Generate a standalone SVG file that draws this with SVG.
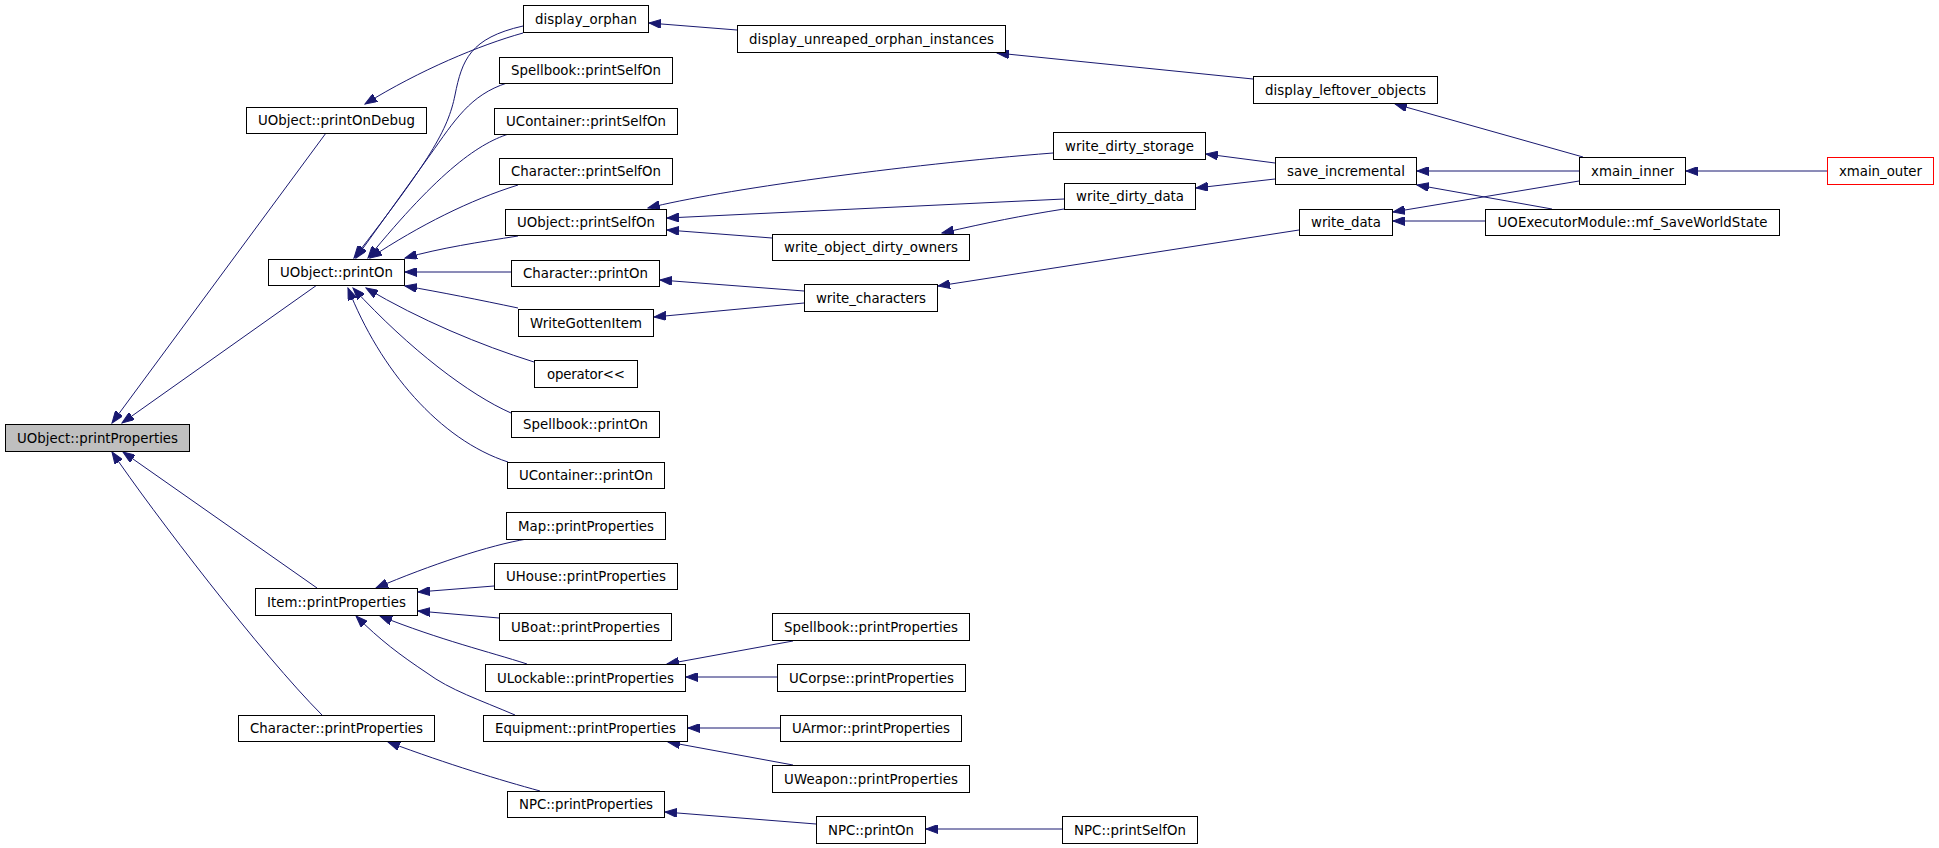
<svg xmlns="http://www.w3.org/2000/svg" width="1939" height="848" viewBox="0 0 1939 848">
<style>
.n rect{fill:#fff;stroke:#000;stroke-width:1}
.n text{font-family:"DejaVu Sans","Liberation Sans",sans-serif;font-size:13.33px;fill:#000;text-anchor:middle}
#n_PP rect{fill:#bfbfbf}
#n_XO rect{stroke:#ff0000}
#edges path{fill:none;stroke:#191970;stroke-width:1;marker-end:url(#ah)}
</style>
<defs>
<marker id="ah" markerUnits="userSpaceOnUse" markerWidth="13" markerHeight="9" refX="12" refY="4.5" orient="auto">
<path d="M0,0 L12,4.5 L0,9 z" fill="#191970" stroke="#191970" stroke-width="1"/>
</marker>
</defs>
<rect width="1939" height="848" fill="#fff"/>
<g id="edges">
<path d="M326,133 L112,423"/>
<path d="M317,285 L122,423"/>
<path d="M317,588 L123,452"/>
<path d="M322,715 C262,655 152,511 112,452"/>
<path d="M523,33 C480,45 420,70 365,104"/>
<path d="M523,26 C470,38 462,60 455,95 C448,130 430,160 354,258"/>
<path d="M507,83 C470,95 455,120 430,155 L356,258"/>
<path d="M512,133 C480,142 440,170 368,258"/>
<path d="M518,185 C470,200 420,225 370,258"/>
<path d="M518,236 C480,242 440,248 405,258"/>
<path d="M511,272 L405,272"/>
<path d="M518,308 C480,300 440,292 405,286"/>
<path d="M534,362 C480,345 420,320 366,288"/>
<path d="M511,413 C470,395 410,350 353,288"/>
<path d="M508,462 C440,440 380,370 348,288"/>
<path d="M737,30 L649,23"/>
<path d="M1253,79 L997,53"/>
<path d="M1583,157 L1395,104"/>
<path d="M1053,153 C900,165 720,190 648,208"/>
<path d="M1064,199 L667,218"/>
<path d="M772,238 L667,230"/>
<path d="M1064,209 C1020,216 990,222 942,233"/>
<path d="M1275,163 L1206,154"/>
<path d="M1275,179 L1196,188"/>
<path d="M1579,171 L1417,171"/>
<path d="M1552,209 L1417,185"/>
<path d="M1579,181 L1393,212"/>
<path d="M1485,221 L1393,221"/>
<path d="M1299,230 L938,286"/>
<path d="M804,291 L660,280"/>
<path d="M804,303 L654,317"/>
<path d="M1827,171 L1686,171"/>
<path d="M527,539 C490,545 430,565 376,588"/>
<path d="M494,586 L418,592"/>
<path d="M499,618 L418,611"/>
<path d="M527,664 C490,652 440,640 380,616"/>
<path d="M515,715 C480,700 450,690 427,673 C400,655 380,640 356,616"/>
<path d="M793,641 L667,664"/>
<path d="M777,677 L686,677"/>
<path d="M780,728 L688,728"/>
<path d="M793,765 L668,742"/>
<path d="M540,791 C500,780 450,765 388,742"/>
<path d="M816,824 L665,812"/>
<path d="M1062,829 L926,829"/>
</g>
<g id="n_PP" class="n"><rect x="5.5" y="424.5" width="184" height="27"/><text x="97.5" y="442.5" textLength="161" lengthAdjust="spacing">UObject::printProperties</text></g>
<g id="n_POD" class="n"><rect x="246.5" y="107.5" width="180" height="26"/><text x="336.5" y="125" textLength="157" lengthAdjust="spacing">UObject::printOnDebug</text></g>
<g id="n_PO" class="n"><rect x="268.5" y="259.5" width="136" height="26"/><text x="336.5" y="277" textLength="113" lengthAdjust="spacing">UObject::printOn</text></g>
<g id="n_Item" class="n"><rect x="255.5" y="588.5" width="162" height="27"/><text x="336.5" y="606.5" textLength="139" lengthAdjust="spacing">Item::printProperties</text></g>
<g id="n_CharPP" class="n"><rect x="238.5" y="715.5" width="196" height="26"/><text x="336.5" y="733" textLength="173" lengthAdjust="spacing">Character::printProperties</text></g>
<g id="n_DO" class="n"><rect x="523.5" y="5.5" width="125" height="27"/><text x="586" y="23.5" textLength="102" lengthAdjust="spacing">display_orphan</text></g>
<g id="n_DUOI" class="n"><rect x="737.5" y="25.5" width="268" height="27"/><text x="871.5" y="43.5" textLength="245" lengthAdjust="spacing">display_unreaped_orphan_instances</text></g>
<g id="n_SbPSO" class="n"><rect x="499.5" y="57.5" width="173" height="26"/><text x="586" y="75" textLength="150" lengthAdjust="spacing">Spellbook::printSelfOn</text></g>
<g id="n_UCPSO" class="n"><rect x="494.5" y="108.5" width="183" height="26"/><text x="586" y="126" textLength="160" lengthAdjust="spacing">UContainer::printSelfOn</text></g>
<g id="n_ChPSO" class="n"><rect x="499.5" y="158.5" width="173" height="26"/><text x="586" y="176" textLength="150" lengthAdjust="spacing">Character::printSelfOn</text></g>
<g id="n_UOPSO" class="n"><rect x="505.5" y="209.5" width="161" height="26"/><text x="586" y="227" textLength="138" lengthAdjust="spacing">UObject::printSelfOn</text></g>
<g id="n_ChPO" class="n"><rect x="511.5" y="260.5" width="148" height="26"/><text x="585.5" y="278" textLength="125" lengthAdjust="spacing">Character::printOn</text></g>
<g id="n_WGI" class="n"><rect x="518.5" y="309.5" width="135" height="27"/><text x="586" y="327.5" textLength="112" lengthAdjust="spacing">WriteGottenItem</text></g>
<g id="n_OP" class="n"><rect x="534.5" y="360.5" width="103" height="27"/><text x="586" y="378.5" textLength="78" lengthAdjust="spacing">operator&lt;&lt;</text></g>
<g id="n_SbPO" class="n"><rect x="511.5" y="411.5" width="148" height="26"/><text x="585.5" y="429" textLength="125" lengthAdjust="spacing">Spellbook::printOn</text></g>
<g id="n_UCPO" class="n"><rect x="507.5" y="462.5" width="157" height="26"/><text x="586" y="480" textLength="134" lengthAdjust="spacing">UContainer::printOn</text></g>
<g id="n_Map" class="n"><rect x="506.5" y="512.5" width="159" height="27"/><text x="586" y="530.5" textLength="136" lengthAdjust="spacing">Map::printProperties</text></g>
<g id="n_UHouse" class="n"><rect x="494.5" y="563.5" width="183" height="26"/><text x="586" y="581" textLength="160" lengthAdjust="spacing">UHouse::printProperties</text></g>
<g id="n_UBoat" class="n"><rect x="499.5" y="613.5" width="172" height="27"/><text x="585.5" y="631.5" textLength="149" lengthAdjust="spacing">UBoat::printProperties</text></g>
<g id="n_ULock" class="n"><rect x="485.5" y="664.5" width="200" height="27"/><text x="585.5" y="682.5" textLength="177" lengthAdjust="spacing">ULockable::printProperties</text></g>
<g id="n_Equip" class="n"><rect x="483.5" y="715.5" width="204" height="26"/><text x="585.5" y="733" textLength="181" lengthAdjust="spacing">Equipment::printProperties</text></g>
<g id="n_NPCPP" class="n"><rect x="507.5" y="791.5" width="157" height="26"/><text x="586" y="809" textLength="134" lengthAdjust="spacing">NPC::printProperties</text></g>
<g id="n_WODO" class="n"><rect x="772.5" y="234.5" width="197" height="26"/><text x="871" y="252" textLength="174" lengthAdjust="spacing">write_object_dirty_owners</text></g>
<g id="n_WC" class="n"><rect x="804.5" y="284.5" width="133" height="27"/><text x="871" y="302.5" textLength="110" lengthAdjust="spacing">write_characters</text></g>
<g id="n_DLO" class="n"><rect x="1253.5" y="76.5" width="184" height="27"/><text x="1345.5" y="94.5" textLength="161" lengthAdjust="spacing">display_leftover_objects</text></g>
<g id="n_WDS" class="n"><rect x="1053.5" y="132.5" width="152" height="27"/><text x="1129.5" y="150.5" textLength="129" lengthAdjust="spacing">write_dirty_storage</text></g>
<g id="n_SI" class="n"><rect x="1275.5" y="157.5" width="141" height="27"/><text x="1346" y="175.5" textLength="118" lengthAdjust="spacing">save_incremental</text></g>
<g id="n_WDD" class="n"><rect x="1064.5" y="183.5" width="131" height="26"/><text x="1130" y="201" textLength="108" lengthAdjust="spacing">write_dirty_data</text></g>
<g id="n_WD" class="n"><rect x="1299.5" y="209.5" width="93" height="26"/><text x="1346" y="227" textLength="70" lengthAdjust="spacing">write_data</text></g>
<g id="n_XI" class="n"><rect x="1579.5" y="157.5" width="106" height="27"/><text x="1632.5" y="175.5" textLength="83" lengthAdjust="spacing">xmain_inner</text></g>
<g id="n_XO" class="n"><rect x="1827.5" y="157.5" width="106" height="27"/><text x="1880.5" y="175.5" textLength="83" lengthAdjust="spacing">xmain_outer</text></g>
<g id="n_UOEM" class="n"><rect x="1485.5" y="209.5" width="294" height="26"/><text x="1632.5" y="227" textLength="270" lengthAdjust="spacing">UOExecutorModule::mf_SaveWorldState</text></g>
<g id="n_SbPP" class="n"><rect x="772.5" y="613.5" width="197" height="27"/><text x="871" y="631.5" textLength="174" lengthAdjust="spacing">Spellbook::printProperties</text></g>
<g id="n_UCorpse" class="n"><rect x="777.5" y="664.5" width="188" height="27"/><text x="871.5" y="682.5" textLength="165" lengthAdjust="spacing">UCorpse::printProperties</text></g>
<g id="n_UArmor" class="n"><rect x="780.5" y="715.5" width="181" height="26"/><text x="871" y="733" textLength="158" lengthAdjust="spacing">UArmor::printProperties</text></g>
<g id="n_UWeapon" class="n"><rect x="772.5" y="765.5" width="197" height="27"/><text x="871" y="783.5" textLength="174" lengthAdjust="spacing">UWeapon::printProperties</text></g>
<g id="n_NPCPO" class="n"><rect x="816.5" y="816.5" width="109" height="27"/><text x="871" y="834.5" textLength="86" lengthAdjust="spacing">NPC::printOn</text></g>
<g id="n_NPCPSO" class="n"><rect x="1062.5" y="816.5" width="135" height="27"/><text x="1130" y="834.5" textLength="112" lengthAdjust="spacing">NPC::printSelfOn</text></g>
</svg>
